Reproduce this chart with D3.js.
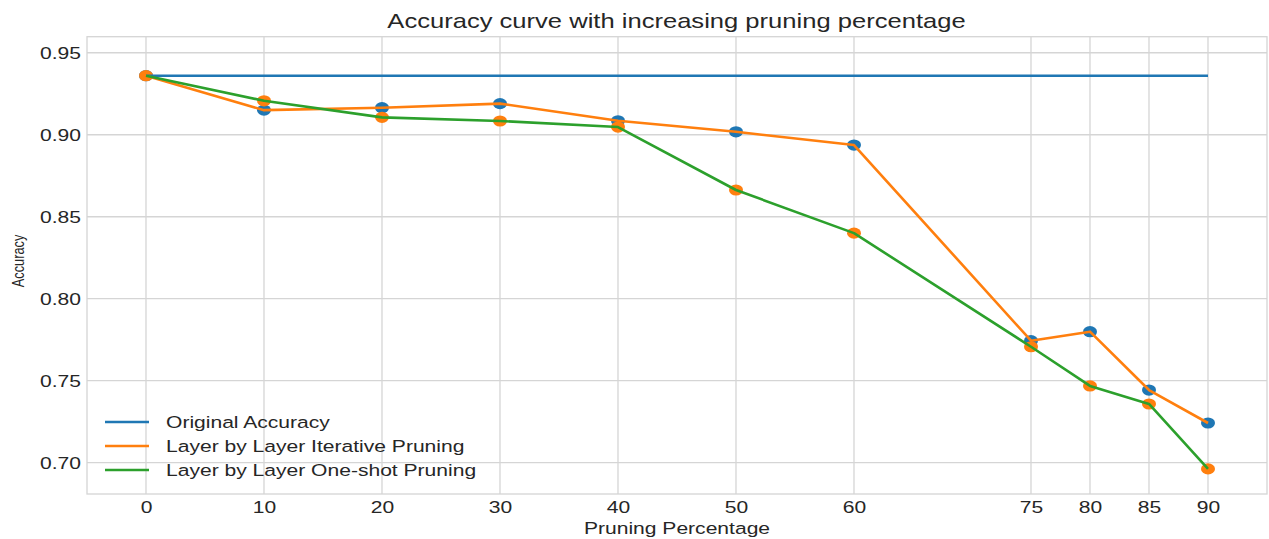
<!DOCTYPE html>
<html>
<head>
<meta charset="utf-8">
<script src="https://cdn.jsdelivr.net/npm/d3@7"></script>
<style>
  html, body { margin: 0; padding: 0; background: #fff; }
  svg { display: block; }
  text { font-family: "Liberation Sans", Arial, sans-serif; fill: #262626; }
</style>
</head>
<body>
<svg id="chart" width="1269" height="539"></svg>
<script>
// ---- data ----
const pruning = [0, 10, 20, 30, 40, 50, 60, 75, 80, 85, 90];
const originalAccuracy = 0.936;
const iterative = [0.936, 0.915, 0.9165, 0.919, 0.9085, 0.9018, 0.8937, 0.7744, 0.7799, 0.7443, 0.7242];
const oneShot   = [0.936, 0.9207, 0.9106, 0.9084, 0.9047, 0.8663, 0.840, 0.7707, 0.7468, 0.7358, 0.6962];
const yTicks = [0.70, 0.75, 0.80, 0.85, 0.90, 0.95];
const seriesNames = ["Original Accuracy", "Layer by Layer Iterative Pruning", "Layer by Layer One-shot Pruning"];
const colors = ["#1f77b4", "#ff7f0e", "#2ca02c"];

(function () {
const SX = 1.24; // horizontal text stretch seen in the picture
const svg = d3.select("#chart");
const pL = 87, pR = 1267, pT = 36.7, pB = 494;

const x = d3.scaleLinear().domain([-5, 95]).range([pL, pR]);
const y = d3.scaleLinear().domain([0.6809, 0.9598]).range([pB, pT]);

// background
svg.append("rect").attr("x", pL).attr("y", pT).attr("width", pR - pL).attr("height", pB - pT).attr("fill", "#fff");

// grid
const grid = svg.append("g").attr("stroke", "#d5d5d5").attr("stroke-width", 1.3);
grid.selectAll("line.v").data(pruning).join("line").attr("class", "v")
  .attr("x1", d => x(d)).attr("x2", d => x(d)).attr("y1", pT).attr("y2", pB);
grid.selectAll("line.h").data(yTicks).join("line").attr("class", "h")
  .attr("x1", pL).attr("x2", pR).attr("y1", d => y(d)).attr("y2", d => y(d));

// spines
svg.append("rect").attr("x", pL).attr("y", pT).attr("width", pR - pL).attr("height", pB - pT)
  .attr("fill", "none").attr("stroke", "#d5d5d5").attr("stroke-width", 1.3);

// axes
const xAxis = svg.append("g").attr("transform", `translate(0,${pB})`)
  .call(d3.axisBottom(x).tickValues(pruning).tickSize(0).tickFormat(d3.format("d")));
xAxis.select(".domain").remove();
xAxis.selectAll("text").attr("y", 19).attr("dy", 0).attr("font-size", 17)
  .attr("font-family", "Liberation Sans, Arial, sans-serif").attr("fill", "#262626")
  .attr("transform", `scale(${SX},1)`);

const yAxis = svg.append("g").attr("transform", `translate(${pL},0)`)
  .call(d3.axisLeft(y).tickValues(yTicks).tickSize(0).tickFormat(d3.format(".2f")));
yAxis.select(".domain").remove();
yAxis.selectAll("text").attr("x", -6 / SX).attr("dy", "0.36em").attr("font-size", 17)
  .attr("font-family", "Liberation Sans, Arial, sans-serif").attr("fill", "#262626")
  .attr("transform", `scale(${SX},1)`);

// scatter markers (drawn under lines)
const pts = pruning.map((p, i) => ({p, it: iterative[i], os: oneShot[i]}));
svg.append("g").selectAll("ellipse").data(pts).join("ellipse")
  .attr("cx", d => x(d.p)).attr("cy", d => y(d.it)).attr("rx", 7).attr("ry", 5.6).attr("fill", colors[0]);
svg.append("g").selectAll("ellipse").data(pts).join("ellipse")
  .attr("cx", d => x(d.p)).attr("cy", d => y(d.os)).attr("rx", 7).attr("ry", 5.6).attr("fill", colors[1]);

// lines
const line = d3.line().x(d => x(d[0])).y(d => y(d[1]));
const lineData = [
  pruning.map(p => [p, originalAccuracy]),
  pruning.map((p, i) => [p, iterative[i]]),
  pruning.map((p, i) => [p, oneShot[i]])
];
lineData.forEach((ld, i) => {
  svg.append("path").datum(ld).attr("d", line).attr("fill", "none")
    .attr("stroke", colors[i]).attr("stroke-width", 2.6).attr("stroke-linejoin", "round");
});

// helper for stretched text
function stext(xp, yp, str, size, anchor, sx) {
  return svg.append("g").attr("transform", `translate(${xp},${yp}) scale(${sx || SX},1)`)
    .append("text").attr("text-anchor", anchor || "start").attr("font-size", size).text(str);
}

// title
stext(676.5, 27.5, "Accuracy curve with increasing pruning percentage", 20.3, "middle", 1.26);
// x label
stext(677, 534, "Pruning Percentage", 17, "middle");
// y label
svg.append("g").attr("transform", `translate(24,261) scale(1.3,1) rotate(-90)`)
  .append("text").attr("text-anchor", "middle").attr("font-size", 12.8).text("Accuracy");

// legend
const legY = [422, 446, 470];
seriesNames.forEach((name, i) => {
  svg.append("line").attr("x1", 105).attr("x2", 149).attr("y1", legY[i]).attr("y2", legY[i])
    .attr("stroke", colors[i]).attr("stroke-width", 2.6);
  stext(166, legY[i] + 6, name, 17, "start");
});
})();
</script>
</body>
</html>
